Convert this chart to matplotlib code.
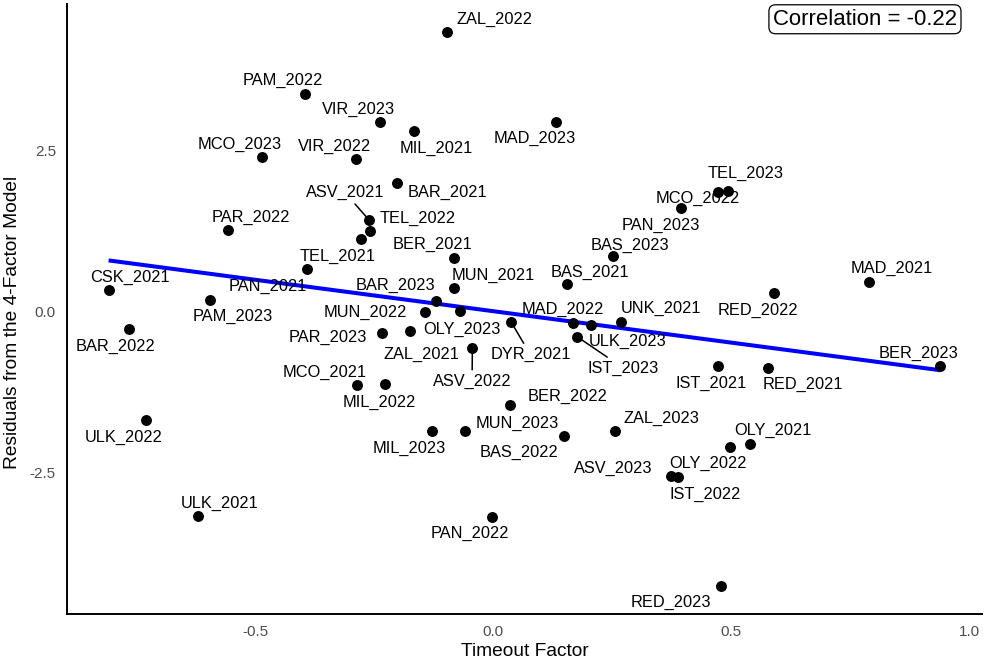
import numpy as np
import matplotlib as mpl
mpl.use('Agg')
from matplotlib import pyplot as plt

plt.rcParams['font.family'] = ['Liberation Sans', 'DejaVu Sans']

my_dpi = 100

# team-season ids, timeout factor and residuals from the 4-factor model
teams = ["ZAL_2022", "PAM_2022", "VIR_2023", "MIL_2021", "MAD_2023", "MCO_2023",
         "VIR_2022", "BAR_2021", "ASV_2021", "TEL_2022", "TEL_2021", "PAR_2022",
         "PAN_2021", "CSK_2021", "PAM_2023", "BER_2021", "MUN_2021", "BAR_2023",
         "MUN_2022", "OLY_2023", "PAR_2023", "ZAL_2021", "DYR_2021", "ASV_2022",
         "MAD_2022", "ULK_2023", "IST_2023", "UNK_2021", "BAS_2021", "BAS_2023",
         "PAN_2023", "MCO_2022", "TEL_2023", "MAD_2021", "RED_2022", "BER_2023",
         "IST_2021", "RED_2021", "BER_2022", "MUN_2023", "MIL_2023", "BAS_2022",
         "ZAL_2023", "OLY_2021", "OLY_2022", "ASV_2023", "IST_2022", "PAN_2022",
         "RED_2023", "ULK_2021", "ULK_2022", "BAR_2022", "MCO_2021", "MIL_2022"]

timeout = [-0.098, -0.395, -0.237, -0.166, 0.132, -0.486,
           -0.288, -0.203, -0.261, -0.259, -0.278, -0.557,
           -0.391, -0.808, -0.595, -0.082, -0.082, -0.121,
           -0.143, -0.071, -0.233, -0.175, 0.037, -0.044,
           0.168, 0.206, 0.176, 0.268, 0.154, 0.252,
           0.395, 0.472, 0.492, 0.790, 0.589, 0.939,
           0.471, 0.576, 0.035, -0.059, -0.129, 0.148,
           0.255, 0.540, 0.497, 0.373, 0.387, -0.003,
           0.479, -0.621, -0.729, -0.766, -0.287, -0.227]

resid = [4.345, 3.382, 2.938, 2.803, 2.938, 2.404,
         2.363, 2.003, 1.421, 1.245, 1.121, 1.270,
         0.665, 0.334, 0.179, 0.835, 0.365, 0.168,
         -0.012, 0.012, -0.329, -0.298, -0.158, -0.571,
         -0.174, -0.210, -0.391, -0.163, 0.422, 0.866,
         1.602, 1.856, 1.876, 0.463, 0.283, -0.842,
         -0.846, -0.873, -1.452, -1.856, -1.851, -1.929,
         -1.856, -2.053, -2.104, -2.550, -2.565, -3.186,
         -4.267, -3.175, -1.685, -0.272, -1.146, -1.126]

# label placement (pixel offsets from the point, y downwards), repel-style
lab_dx = [48, -22.2, -22.2, 22.4, -21.7, -22.5,
          -21.2, 50.4, -24, 47.8, -23.5, 22.6,
          -39.2, 21.4, 22.3, -22.3, 38.8, -40.7,
          -60, 2.7, -54.2, 11.2, 19.6, -0.3,
          -10.5, 36.1, 46.5, 39.7, 23.3, 17,
          -20.4, -20, 18.5, 22.5, -15.8, -21.8,
          -6.9, 35.6, 57.8, 52, -22.2, -45.2,
          47, 22.1, -21.8, -57.3, 27.6, -22.2,
          -50.2, 22.2, -22.3, -13.2, -32.2, -6.2]
lab_dy = [-13.4, -14.4, -14, 15.7, 15, -14,
          -14.3, 8.2, -29, -14.6, 15.7, -14,
          16.3, -14, 15, -14.4, -13.7, -16.7,
          -1.6, 17.6, 3, 22.6, 31.6, 31.7,
          -14.4, 15, 30, -14.7, -13.6, -11.4,
          15.4, 5.3, -19, -15, 15.7, -14,
          16.3, 15.6, -10, -9.3, 16, 15.3,
          -13.7, -14.4, 15, -8.7, 16.6, 15.3,
          14.7, -14.3, 15.7, 16, -14.3, 17]
with_segment = ["ASV_2021", "DYR_2021", "ASV_2022", "IST_2023"]

x = np.array(timeout)
y = np.array(resid)

# padding like ggplot's default 5% expansion
xpad = 0.05*(x.max() - x.min())
ypad = 0.05*(y.max() - y.min())

fig = plt.figure(figsize=(984/my_dpi, 665/my_dpi), dpi=my_dpi)
ax = fig.add_axes([67/984, 51/665, 915/984, 610/665])

ax.set_xlim(x.min() - xpad, x.max() + xpad)
ax.set_ylim(y.min() - ypad, y.max() + ypad)

# least squares fit over the data range
slope, icpt = np.polyfit(x, y, 1)
xl = np.array([x.min(), x.max()])
ax.plot(xl, icpt + slope*xl, color='#0000FF', linewidth=2.9, solid_capstyle='butt', zorder=2)

ax.scatter(x, y, s=62, color='black', linewidths=0, zorder=3)

px2pt = 72.0/my_dpi
for i in range(len(teams)):
  arrow = None
  if teams[i] in with_segment:
    arrow = dict(arrowstyle='-', color='black', lw=1.1, shrinkA=1, shrinkB=3)
  ax.annotate(teams[i], xy=(x[i], y[i]), xytext=(lab_dx[i]*px2pt, -lab_dy[i]*px2pt),
              textcoords='offset points', ha='center', va='center_baseline',
              fontsize=11.8, color='black', arrowprops=arrow, zorder=4)

r = np.corrcoef(x, y)[0, 1]
ax.text(0.9727, 0.975, 'Correlation = %.2f' % r, transform=ax.transAxes,
        ha='right', va='center', fontsize=15.9, zorder=5,
        bbox=dict(boxstyle='round,pad=0.18,rounding_size=0.3', fc='white', ec='black', lw=0.9))

ax.set_xticks([-0.5, 0.0, 0.5, 1.0])
ax.set_xticklabels(['-0.5', '0.0', '0.5', '1.0'])
ax.set_yticks([-2.5, 0.0, 2.5])
ax.set_yticklabels(['-2.5', '0.0', '2.5'])
ax.tick_params(axis='both', length=0, pad=8, labelsize=11, labelcolor='#4D4D4D')

for side in ['top', 'right']:
  ax.spines[side].set_visible(False)
for side in ['left', 'bottom']:
  ax.spines[side].set_linewidth(1.4)
  ax.spines[side].set_color('black')

ax.set_xlabel('Timeout Factor', fontsize=13.8, va='center')
ax.set_ylabel('Residuals from the 4-Factor Model', fontsize=13.8, va='center')
ax.xaxis.set_label_coords(0.5, -0.0618)
ax.yaxis.set_label_coords(-0.0596, 0.478)

plt.savefig('out.png', dpi=my_dpi)
